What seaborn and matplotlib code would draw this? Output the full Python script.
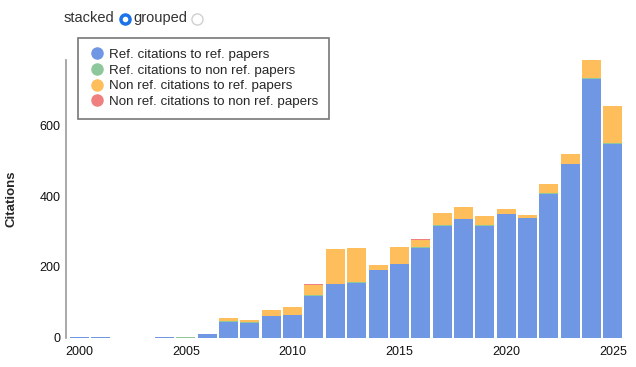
import numpy as np
import pandas as pd
import matplotlib
matplotlib.use("Agg")
import matplotlib.pyplot as plt
from matplotlib.lines import Line2D
import seaborn as sns

years = list(range(2000, 2026))
ref_to_ref = [3, 2, 0, 0, 2, 0, 10, 45, 41, 62, 65, 119, 152, 155, 191, 207,
              254, 315, 335, 316, 349, 338, 407, 490, 729, 547]
ref_to_nonref = [0, 0, 0, 0, 0, 1, 0, 2, 2, 0, 0, 1, 0, 1, 1, 1,
                 1, 3, 1, 1, 1, 1, 1, 1, 3, 2]
nonref_to_ref = [0, 0, 0, 0, 0, 1, 0, 9, 7, 16, 21, 29, 98, 97, 14, 47,
                 21, 35, 32, 26, 14, 7, 25, 28, 52, 105]
nonref_to_nonref = [0, 0, 0, 0, 0, 0, 0, 0, 0, 0, 0, 2, 0, 0, 0, 0,
                    2, 0, 0, 0, 0, 0, 0, 0, 0, 1]

series_names = ["Ref. citations to ref. papers",
                "Ref. citations to non ref. papers",
                "Non ref. citations to ref. papers",
                "Non ref. citations to non ref. papers"]
colors = ["#7097e3", "#8fc79d", "#ffbe5c", "#f07f7f"]
x_ticks = [2000, 2005, 2010, 2015, 2020, 2025]

# long format for histplot stacking
rows = []
for name, vals in zip(series_names, [ref_to_ref, ref_to_nonref, nonref_to_ref, nonref_to_nonref]):
    for y, v in zip(years, vals):
        rows.append({"year": y, "kind": name, "count": v})
df = pd.DataFrame(rows)

sns.set_theme(style="white")
plt.rcParams["font.family"] = ["Liberation Sans", "DejaVu Sans"]

fig = plt.figure(figsize=(6.36, 3.67), dpi=100)
ax = fig.add_axes([66 / 636, 1 - 337.7 / 367, 560 / 636, (337.7 - 60) / 367])

# seaborn stacks the first hue level on top, so reverse the order
sns.histplot(data=df, x="year", weights="count", hue="kind",
             hue_order=series_names[::-1], palette=colors[::-1],
             multiple="stack", discrete=True, shrink=0.89,
             element="bars", alpha=1, linewidth=0,
             legend=False, ax=ax)

ax.set_xlim(1999.39, 2025.61)
ax.set_ylim(0, 784)
ax.set_xticks(x_ticks)
ax.set_yticks([0, 200, 400, 600])
ax.set_xlabel("")
ax.set_ylabel("Citations", fontsize=9.5, fontweight="bold", labelpad=16)
ax.tick_params(axis="both", length=0, labelsize=9, colors="#111111")
ax.tick_params(axis="x", pad=6)
ax.tick_params(axis="y", pad=4)
for side in ["top", "right", "bottom"]:
    ax.spines[side].set_visible(False)
ax.spines["left"].set_color("#999999")
ax.spines["left"].set_linewidth(1.2)

handles = [Line2D([0], [0], marker="o", linestyle="", markersize=8,
                  markerfacecolor=c, markeredgecolor=c) for c in colors]
leg = fig.legend(handles, series_names, loc="upper left",
                 bbox_to_anchor=(78 / 636, 1 - 38 / 367), fontsize=9.6,
                 frameon=True, fancybox=False, handletextpad=0.3,
                 labelspacing=0.25, borderpad=0.8, handlelength=1.2,
                 borderaxespad=0)
leg.get_frame().set_edgecolor("#555555")
leg.get_frame().set_linewidth(1.2)

# stacked / grouped toggle
fig.text(64 / 636, 1 - 18 / 367, "stacked", fontsize=10.5, color="#333333", va="center")
fig.add_artist(Line2D([124.5 / 636], [1 - 19 / 367], marker="o", markersize=8,
                      markerfacecolor="#1a73e8", markeredgecolor="#1a73e8",
                      transform=fig.transFigure))
fig.add_artist(Line2D([124.5 / 636], [1 - 19 / 367], marker="o", markersize=3,
                      markerfacecolor="white", markeredgecolor="white",
                      transform=fig.transFigure))
fig.text(133 / 636, 1 - 18 / 367, "grouped", fontsize=10.5, color="#333333", va="center")
fig.add_artist(Line2D([197 / 636], [1 - 19 / 367], marker="o", markersize=8,
                      markerfacecolor="white", markeredgecolor="#d0d0d0",
                      transform=fig.transFigure))

fig.savefig("out.png", dpi=100)
